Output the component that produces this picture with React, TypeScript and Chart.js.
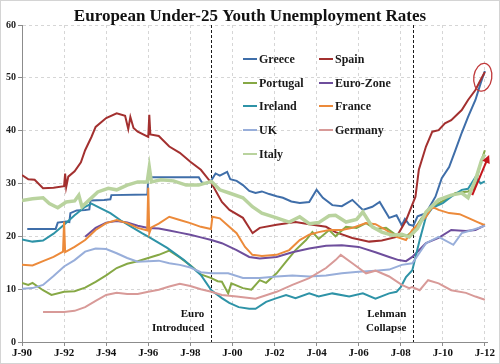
import { useEffect, useRef } from 'react';
import { Chart, registerables } from 'chart.js';

Chart.register(...registerables);

const FONT = '"Liberation Serif", "DejaVu Serif", serif';

const titleText = 'European Under-25 Youth Unemployment Rates';
const xTickYears = [1990, 1992, 1994, 1996, 1998, 2000, 2002, 2004, 2006, 2008, 2010, 2012];
const yTickValues = [0, 10, 20, 30, 40, 50, 60];

const seriesNames = ['Greece', 'Spain', 'Portugal', 'Euro-Zone', 'Ireland', 'France', 'UK', 'Germany', 'Italy'];
const seriesColors = ['#3F6EA9', '#A3302F', '#86A845', '#6E4E9C', '#2E93A7', '#EC8A3A', '#98AEDA', '#D89A98', '#B9D39E'];
const seriesWidths = [2, 2, 2, 2, 2, 2, 2, 2, 3.5];

const greece: [number, number][] = [
  [1990.25, 21.4], [1991.6, 21.4], [1991.7, 22.6], [1992.1, 22.8], [1992.25, 22.7], [1992.3, 24.4], [1992.6, 24.9],
  [1993.0, 25.0], [1993.2, 25.1], [1993.25, 26.8], [1993.9, 26.9], [1994.2, 27.0], [1994.25, 27.8], [1995.96, 27.9],
  [1996.0, 31.2], [1998.4, 31.2], [1998.55, 30.2], [1998.8, 30.0], [1999.0, 30.6], [1999.2, 31.9], [1999.4, 31.5],
  [1999.75, 32.2], [1999.9, 30.8], [2000.2, 30.5], [2000.5, 29.7], [2000.8, 28.6], [2001.1, 28.2], [2001.4, 28.5],
  [2001.75, 28.0], [2002.1, 27.6], [2002.4, 27.3], [2002.8, 26.6], [2003.2, 26.3], [2003.65, 26.5], [2004.0, 28.8],
  [2004.3, 27.3], [2004.75, 25.9], [2005.2, 25.7], [2005.7, 26.9], [2006.2, 25.0], [2006.65, 25.6], [2007.0, 26.5],
  [2007.45, 23.5], [2007.8, 24.0], [2008.05, 22.1], [2008.2, 23.3], [2008.4, 22.2], [2008.6, 22.0], [2008.8, 23.8],
  [2009.2, 24.4], [2009.65, 27.5], [2009.95, 31.0], [2010.3, 33.1], [2010.6, 36.3], [2010.9, 39.6], [2011.2, 42.6],
  [2011.55, 45.8], [2011.8, 49.0], [2012.0, 51.3],
];

const spain: [number, number][] = [
  [1990, 31.6], [1990.3, 30.8], [1990.6, 30.7], [1991, 29.1], [1991.5, 29.2], [1992.0, 29.5], [1992.05, 31.9],
  [1992.1, 29.3], [1992.2, 31.3], [1992.5, 32.3], [1992.8, 34.0], [1993, 36.3], [1993.3, 38.8], [1993.5, 40.7],
  [1994, 42.4], [1994.5, 43.3], [1994.9, 42.8], [1995.05, 40.3], [1995.15, 42.6], [1995.3, 40.5], [1995.5, 39.8],
  [1996, 38.8], [1996.05, 43.0], [1996.1, 39.3], [1996.5, 39.0], [1997, 37.0], [1997.5, 35.8], [1998, 34.1],
  [1998.5, 32.6], [1999, 30.1], [1999.5, 26.5], [1999.86, 25.0], [2000.5, 23.5], [2000.96, 20.6], [2001.3, 21.6],
  [2002.1, 22.2], [2003.0, 22.7], [2003.65, 22.3], [2004.45, 21.8], [2004.9, 20.8], [2005.7, 19.7], [2006.5, 19.0],
  [2007.1, 19.2], [2007.8, 19.9], [2008.25, 23.0], [2008.7, 27.5], [2008.86, 32.6], [2009.2, 37.0], [2009.5, 39.8],
  [2009.8, 40.1], [2010.1, 41.4], [2010.4, 42.0], [2010.9, 43.9], [2011.2, 45.8], [2011.55, 47.7], [2011.85, 50.0],
  [2012.0, 51.1],
];

const portugal: [number, number][] = [
  [1990, 11.2], [1990.3, 10.8], [1990.5, 11.2], [1991, 9.8], [1991.4, 8.9], [1992, 9.5], [1992.5, 9.6],
  [1993, 10.3], [1993.5, 11.4], [1994, 12.6], [1994.5, 14.0], [1995, 14.8], [1995.5, 15.3], [1996, 15.9],
  [1996.5, 16.5], [1997, 17.3], [1997.5, 16.0], [1998, 14.5], [1998.5, 12.8], [1999, 12.1], [1999.3, 11.5],
  [1999.5, 11.4], [1999.8, 9.2], [1999.95, 11.1], [2000.5, 10.2], [2000.9, 9.9], [2001.3, 11.7], [2001.6, 11.2],
  [2002.1, 13.0], [2002.55, 15.2], [2003, 17.4], [2003.5, 19.3], [2003.8, 20.8], [2004.1, 19.5], [2004.6, 21.2],
  [2004.9, 20.0], [2005.4, 21.8], [2005.9, 21.6], [2006.35, 22.5], [2006.8, 21.4], [2007.3, 21.6], [2007.8, 20.2],
  [2008.25, 20.0], [2008.6, 21.0], [2009.0, 23.5], [2009.5, 25.6], [2010.1, 26.9], [2010.6, 28.2], [2011.2, 28.5],
  [2011.5, 29.0], [2011.8, 33.9], [2012.0, 36.3],
];

const euroZone: [number, number][] = [
  [1993, 19.9], [1993.5, 21.6], [1994, 22.6], [1994.5, 22.9], [1995, 22.6], [1995.5, 22.0], [1996, 21.6],
  [1996.5, 21.5], [1997, 21.1], [1997.5, 20.7], [1998, 20.3], [1998.5, 19.8], [1999, 19.3], [1999.5, 18.7],
  [2000.2, 17.4], [2000.8, 16.1], [2001.3, 15.8], [2002.1, 16.1], [2002.85, 17.0], [2003.65, 17.7], [2004.45, 18.2],
  [2005.2, 18.3], [2006, 18.0], [2006.8, 17.0], [2007.45, 16.1], [2007.9, 15.5], [2008.25, 15.3], [2008.55, 16.1],
  [2009.2, 18.7], [2009.8, 19.7], [2010.4, 21.2], [2011.1, 21.0], [2011.55, 21.2], [2012, 22.1],
];

const ireland: [number, number][] = [
  [1990, 19.4], [1990.5, 19.0], [1991, 19.2], [1991.5, 20.5], [1992, 22.2], [1992.5, 24.0], [1993, 25.6],
  [1993.3, 26.2], [1993.7, 25.4], [1994.2, 24.4], [1994.7, 23.0], [1995.2, 21.8], [1995.7, 20.6], [1996.1, 19.7],
  [1996.9, 17.8], [1997.7, 15.5], [1998.5, 12.7], [1999, 9.8], [1999.5, 8.3], [1999.85, 7.4], [2000.3, 6.6],
  [2000.8, 6.3], [2001.1, 6.3], [2001.6, 7.6], [2002.1, 8.3], [2002.55, 8.9], [2003, 8.3], [2003.65, 9.2],
  [2004.1, 8.6], [2004.75, 9.2], [2005.55, 8.6], [2006.2, 9.2], [2006.8, 8.2], [2007.45, 9.2], [2007.8, 9.5],
  [2008.0, 10.4], [2008.25, 12.3], [2008.55, 13.6], [2008.9, 19.3], [2009.2, 23.7], [2009.5, 25.4], [2010, 26.3],
  [2010.4, 27.5], [2010.9, 28.8], [2011.2, 29.0], [2011.55, 31.2], [2011.8, 30.0], [2012, 30.4],
];

const france: [number, number][] = [
  [1990, 14.6], [1990.5, 14.5], [1991, 15.3], [1991.5, 16.1], [1991.95, 17.1], [1992.0, 22.8], [1992.05, 17.0],
  [1992.5, 18.0], [1993, 19.3], [1993.5, 21.2], [1994, 22.5], [1994.5, 23.1], [1995, 22.5], [1995.5, 21.6],
  [1995.95, 21.1], [1996.0, 29.2], [1996.05, 20.6], [1996.15, 21.7], [1996.5, 22.4], [1997, 23.7], [1997.5, 23.1],
  [1998, 22.5], [1998.5, 21.8], [1998.98, 21.4], [1999.05, 23.7], [1999.4, 23.4], [1999.85, 21.8], [2000.2, 20.6],
  [2000.6, 18.0], [2000.95, 16.5], [2001.4, 16.3], [2002.1, 16.5], [2002.7, 17.4], [2003.2, 19.3], [2003.65, 20.3],
  [2004.1, 20.8], [2004.6, 21.2], [2005.2, 21.2], [2005.7, 21.6], [2006.35, 22.5], [2006.8, 22.3], [2007.3, 21.2],
  [2007.8, 19.9], [2008.25, 19.3], [2008.55, 21.2], [2009.2, 23.7], [2009.5, 25.6], [2009.8, 25.0], [2010.3, 24.4],
  [2010.8, 24.2], [2011.2, 23.5], [2011.65, 22.7], [2012, 22.1],
];

const uk: [number, number][] = [
  [1990, 10.1], [1990.5, 10.2], [1991, 10.8], [1991.5, 12.5], [1992, 14.3], [1992.5, 15.5], [1993, 17.1],
  [1993.5, 17.7], [1994, 17.6], [1994.5, 16.8], [1995, 15.9], [1995.5, 15.2], [1996, 15.3], [1996.5, 15.4],
  [1997, 14.9], [1997.5, 14.6], [1998, 14.1], [1998.5, 13.2], [1999, 13.0], [1999.8, 13.0], [2000.5, 12.1],
  [2001.3, 12.1], [2002.1, 12.4], [2002.85, 12.6], [2003.65, 12.4], [2004.45, 12.6], [2005.2, 13.0], [2006, 13.3],
  [2006.8, 13.5], [2007.45, 13.7], [2008.05, 14.6], [2008.55, 14.9], [2009.2, 18.7], [2009.8, 19.9], [2010.5, 18.4],
  [2010.9, 20.6], [2011.4, 21.2], [2011.85, 21.8], [2012, 22.0],
];

const germany: [number, number][] = [
  [1991, 5.7], [1992, 5.7], [1992.5, 5.9], [1993, 6.6], [1993.5, 7.8], [1994, 8.9], [1994.5, 9.3], [1995, 9.1],
  [1995.5, 9.1], [1996, 9.5], [1996.5, 9.9], [1997, 10.5], [1997.5, 11.0], [1998, 10.6], [1998.5, 10.0],
  [1999, 9.5], [1999.5, 8.9], [2000.2, 8.6], [2001.1, 8.2], [2002.1, 9.5], [2002.85, 10.8], [2003.65, 12.1],
  [2004.45, 14.0], [2004.9, 15.5], [2005.15, 16.5], [2005.7, 14.9], [2006.35, 13.0], [2006.8, 13.5], [2007.45, 12.4],
  [2008.05, 10.8], [2008.4, 10.2], [2008.55, 10.4], [2008.9, 9.8], [2009.3, 11.7], [2009.8, 11.1], [2010.4, 9.8],
  [2011.1, 9.3], [2011.55, 8.6], [2012, 8.0],
];

const italy: [number, number][] = [
  [1990, 26.8], [1990.5, 27.1], [1991, 27.3], [1991.3, 26.2], [1991.7, 25.4], [1992.1, 26.5], [1992.5, 26.7],
  [1992.7, 27.8], [1992.85, 25.6], [1993.2, 26.9], [1993.6, 28.4], [1994.1, 29.1], [1994.5, 28.8], [1995, 29.7],
  [1995.5, 30.3], [1995.95, 30.3], [1996.05, 33.1], [1996.15, 30.3], [1996.6, 30.7], [1997.2, 30.5], [1997.8, 29.7],
  [1998.4, 29.7], [1999, 30.4], [1999.4, 28.8], [1999.85, 28.2], [2000.5, 27.3], [2000.95, 25.6], [2001.4, 24.4],
  [2002.1, 23.5], [2002.7, 22.7], [2003.2, 23.7], [2003.65, 22.4], [2004.1, 22.6], [2004.6, 23.9], [2004.9, 24.0],
  [2005.4, 22.7], [2005.9, 23.2], [2006.2, 24.6], [2006.65, 21.8], [2007.1, 20.8], [2007.6, 20.2], [2008.05, 20.4],
  [2008.4, 19.9], [2008.8, 21.5], [2009.2, 24.6], [2009.8, 26.9], [2010.4, 27.8], [2010.9, 28.2], [2011.2, 27.3],
  [2011.55, 30.7], [2011.85, 34.5], [2012, 35.5],
];

const seriesData = [greece, spain, portugal, euroZone, ireland, france, uk, germany, italy];

const eventYears = [1999.0, 2008.6];
const eventLabels = [['Euro', 'Introduced'], ['Lehman', 'Collapse']];

// Highlight markers (data coordinates)
const circleCenter: [number, number] = [2011.9, 50.1];
const arrowFrom: [number, number] = [2011.4, 27.8];
const arrowTo: [number, number] = [2012.2, 35.4];

const overlayPlugin = {
  id: 'overlay',
  beforeDatasetsDraw(chart: any) {
    const { ctx, chartArea, scales } = chart;
    ctx.save();
    ctx.strokeStyle = '#1a1a1a';
    ctx.lineWidth = 1;
    ctx.setLineDash([3, 2]);
    eventYears.forEach((yr) => {
      const x = Math.round(scales.x.getPixelForValue(yr)) + 0.5;
      ctx.beginPath();
      ctx.moveTo(x, chartArea.top);
      ctx.lineTo(x, chartArea.bottom);
      ctx.stroke();
    });
    ctx.restore();
  },
  afterDatasetsDraw(chart: any) {
    const { ctx, chartArea, scales } = chart;
    ctx.save();
    // title
    ctx.fillStyle = '#111';
    ctx.font = `bold 17px ${FONT}`;
    ctx.textAlign = 'center';
    ctx.textBaseline = 'alphabetic';
    ctx.fillText(titleText, 250, 21);

    // event labels
    ctx.font = `bold 11px ${FONT}`;
    ctx.textAlign = 'right';
    eventYears.forEach((yr, i) => {
      const x = scales.x.getPixelForValue(yr) - 7;
      ctx.fillText(eventLabels[i][0], x, chartArea.bottom - 25);
      ctx.fillText(eventLabels[i][1], x, chartArea.bottom - 11);
    });

    // legend
    const cols = [243, 319];
    const rows = [59, 83, 106, 130, 154];
    ctx.textAlign = 'left';
    ctx.textBaseline = 'middle';
    ctx.font = `bold 12px ${FONT}`;
    seriesNames.forEach((name, i) => {
      const cx = cols[i % 2];
      const cy = rows[Math.floor(i / 2)];
      ctx.strokeStyle = seriesColors[i];
      ctx.lineWidth = 2;
      ctx.setLineDash([]);
      ctx.beginPath();
      ctx.moveTo(cx, cy);
      ctx.lineTo(cx + 14, cy);
      ctx.stroke();
      ctx.fillStyle = '#1a1a1a';
      ctx.fillText(name, cx + 16, cy + 0.5);
    });

    // circle
    const ccx = scales.x.getPixelForValue(circleCenter[0]);
    const ccy = scales.y.getPixelForValue(circleCenter[1]);
    ctx.strokeStyle = '#C0393B';
    ctx.lineWidth = 1.3;
    ctx.beginPath();
    ctx.ellipse(ccx, ccy, 9, 14, 0.15, 0, Math.PI * 2);
    ctx.stroke();

    // arrow
    const ax1 = scales.x.getPixelForValue(arrowFrom[0]);
    const ay1 = scales.y.getPixelForValue(arrowFrom[1]);
    const ax2 = scales.x.getPixelForValue(arrowTo[0]);
    const ay2 = scales.y.getPixelForValue(arrowTo[1]);
    const ang = Math.atan2(ay2 - ay1, ax2 - ax1);
    ctx.strokeStyle = '#C4161C';
    ctx.fillStyle = '#C4161C';
    ctx.lineWidth = 2;
    ctx.beginPath();
    ctx.moveTo(ax1, ay1);
    ctx.lineTo(ax2 - 5 * Math.cos(ang), ay2 - 5 * Math.sin(ang));
    ctx.stroke();
    ctx.beginPath();
    ctx.moveTo(ax2, ay2);
    ctx.lineTo(ax2 - 8 * Math.cos(ang) + 4 * Math.sin(ang), ay2 - 8 * Math.sin(ang) - 4 * Math.cos(ang));
    ctx.lineTo(ax2 - 8 * Math.cos(ang) - 4 * Math.sin(ang), ay2 - 8 * Math.sin(ang) + 4 * Math.cos(ang));
    ctx.closePath();
    ctx.fill();

    // outer frame
    ctx.strokeStyle = '#D4D4D4';
    ctx.lineWidth = 1;
    ctx.strokeRect(0.5, 0.5, chart.width - 1, chart.height - 1);
    ctx.restore();
  },
};

export default function App() {
  const canvasRef = useRef<HTMLCanvasElement | null>(null);

  useEffect(() => {
    if (!canvasRef.current) return;
    const chart = new Chart(canvasRef.current, {
      type: 'line',
      data: {
        datasets: seriesNames.map((name, i) => ({
          label: name,
          data: seriesData[i].map(([x, y]) => ({ x, y })),
          borderColor: seriesColors[i],
          backgroundColor: seriesColors[i],
          borderWidth: seriesWidths[i],
          pointRadius: 0,
          tension: 0,
          fill: false,
          order: seriesNames.length - i,
        })),
      },
      options: {
        responsive: false,
        animation: false,
        events: [],
        layout: { padding: { top: 25, right: 13, left: 0, bottom: 0 } },
        plugins: {
          legend: { display: false },
          title: { display: false },
          tooltip: { enabled: false },
        },
        scales: {
          x: {
            type: 'linear',
            min: 1990,
            max: 2012.1,
            afterFit: (s: any) => { s.height = 22; },
            afterBuildTicks: (s: any) => { s.ticks = xTickYears.map((v) => ({ value: v })); },
            ticks: {
              autoSkip: false,
              maxRotation: 0,
              padding: 1,
              color: '#111',
              font: { family: FONT, size: 11, weight: 'bold' },
              callback: (v: any) => 'J-' + String(Number(v) % 100).padStart(2, '0'),
            },
            grid: {
              color: '#D6D6D6',
              lineWidth: 1,
              tickColor: '#8C8C8C',
              tickLength: 4,
            },
            border: { display: true, color: '#8C8C8C', width: 1, dash: [3, 3] },
          },
          y: {
            type: 'linear',
            min: 0,
            max: 60,
            afterFit: (s: any) => { s.width = 22; },
            afterBuildTicks: (s: any) => { s.ticks = yTickValues.map((v) => ({ value: v })); },
            ticks: {
              padding: 2,
              color: '#222',
              font: { family: FONT, size: 10, weight: 'bold' },
            },
            grid: {
              color: '#D6D6D6',
              lineWidth: 1,
              tickColor: '#8C8C8C',
              tickLength: 4,
            },
            border: { display: true, color: '#8C8C8C', width: 1, dash: [3, 3] },
          },
        },
      },
      plugins: [overlayPlugin],
    } as any);
    return () => chart.destroy();
  }, []);

  return (
    <div style={{ position: 'absolute', left: 0, top: 0, width: 500, height: 364, background: '#fff' }}>
      <canvas ref={canvasRef} width={500} height={364} style={{ display: 'block' }} />
    </div>
  );
}
